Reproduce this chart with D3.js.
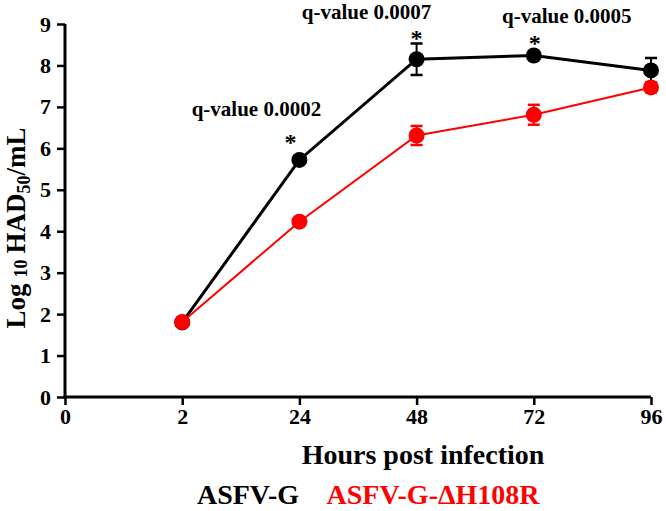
<!DOCTYPE html>
<html>
<head>
<meta charset="utf-8">
<script src="https://cdn.jsdelivr.net/npm/d3@7"></script>
<style>
  html, body { margin: 0; padding: 0; background: #fff; }
  svg { display: block; }
  text { font-family: "Liberation Serif", "Times New Roman", serif; font-weight: bold; }
</style>
</head>
<body>
<svg id="chart" width="666" height="511"></svg>
<script>
// ---- data ----
const hourLabels = ["0", "2", "24", "48", "72", "96"];
const sampleHours = ["2", "24", "48", "72", "96"];
const asfvG = [1.80, 5.72, 8.15, 8.24, 7.88];
const asfvGErr = [0, 0.05, 0.38, 0.05, 0.30];
const asfvGDelta = [1.81, 4.23, 6.31, 6.81, 7.47];
const asfvGDeltaErr = [0, 0.05, 0.23, 0.24, 0.12];
const yTicks = [0, 1, 2, 3, 4, 5, 6, 7, 8, 9];
const qHours = ["24", "48", "72"];
const qLabels = ["q-value 0.0002", "q-value 0.0007", "q-value 0.0005"];
const seriesNames = ["ASFV-G", "ASFV-G-\u0394H108R"];
const seriesColors = ["#000000", "#ff0000"];

const svg = d3.select("#chart");
const x = d3.scalePoint().domain(hourLabels).range([65, 651]);
const y = d3.scaleLinear().domain([0, 9]).range([397, 24]);

// axes
const xAxis = svg.append("g").attr("transform", "translate(0,397)")
  .call(d3.axisBottom(x).tickSizeOuter(0).tickSize(8).tickPadding(3));
const yAxis = svg.append("g").attr("transform", "translate(65,0)")
  .call(d3.axisLeft(y).tickValues(yTicks).tickFormat(d3.format("d")).tickSizeOuter(0).tickSize(8).tickPadding(6));
[xAxis, yAxis].forEach(g => {
  g.select(".domain").attr("stroke", "#000").attr("stroke-width", 3);
  g.selectAll(".tick line").attr("stroke", "#000").attr("stroke-width", 2.5);
  g.selectAll(".tick text").attr("fill", "#000").attr("font-size", 22)
    .attr("font-family", "Liberation Serif").attr("font-weight", "bold");
});
xAxis.select(".domain").attr("d", `M${65 - 1.5},0H651`);
yAxis.select(".domain").attr("d", `M0,${397 + 1.5}V24`);

// series
const series = [
  { vals: asfvG, err: asfvGErr, color: seriesColors[0], lw: 3 },
  { vals: asfvGDelta, err: asfvGDeltaErr, color: seriesColors[1], lw: 2 }
];
const line = d3.line().x((d, i) => x(sampleHours[i])).y(d => y(d));
series.forEach(s => {
  const g = svg.append("g");
  g.append("path").datum(s.vals).attr("d", line).attr("fill", "none")
    .attr("stroke", s.color).attr("stroke-width", s.lw);
  s.vals.forEach((v, i) => {
    const cx = x(sampleHours[i]);
    const e = s.err[i];
    if (e > 0) {
      g.append("line").attr("x1", cx).attr("x2", cx).attr("y1", y(v + e)).attr("y2", y(v - e))
        .attr("stroke", s.color).attr("stroke-width", 2);
      [v + e, v - e].forEach(t => g.append("line").attr("x1", cx - 6).attr("x2", cx + 6)
        .attr("y1", y(t)).attr("y2", y(t)).attr("stroke", s.color).attr("stroke-width", 2.5));
    }
  });
  g.selectAll("circle").data(s.vals).join("circle")
    .attr("cx", (d, i) => x(sampleHours[i])).attr("cy", d => y(d)).attr("r", 8)
    .attr("fill", s.color);
});

// significance annotations: [text dx, text baseline, star dx, star baseline]
const qOffsets = [[-43, 116, -9, 150], [-50, 19, 0, 46], [33, 23, 1, 51]];
qHours.forEach((h, i) => {
  const cx = x(h);
  const o = qOffsets[i];
  svg.append("text").attr("x", cx + o[0]).attr("y", o[1])
    .attr("text-anchor", "middle").attr("font-size", 21).text(qLabels[i]);
  svg.append("text").attr("x", cx + o[2]).attr("y", o[3])
    .attr("text-anchor", "middle").attr("font-size", 24).text("*");
});

// axis titles
svg.append("text").attr("x", 423).attr("y", 464)
  .attr("text-anchor", "middle").attr("font-size", 28).text("Hours post infection");

const yt = svg.append("text").attr("text-anchor", "middle")
  .attr("transform", "translate(25,228) rotate(-90)").attr("font-size", 27);
yt.append("tspan").text("Log");
yt.append("tspan").attr("font-size", 18).attr("dx", 6).attr("dy", 2).text("10");
yt.append("tspan").attr("dx", 6).attr("dy", -2).text("HAD");
yt.append("tspan").attr("font-size", 18).attr("dy", 5).text("50");
yt.append("tspan").attr("dy", -5).text("/mL");

// legend
const legendX = [248, 433];
seriesNames.forEach((n, i) => {
  svg.append("text").attr("x", legendX[i]).attr("y", 504)
    .attr("text-anchor", "middle").attr("font-size", 28).attr("fill", seriesColors[i]).text(n);
});
</script>
</body>
</html>
